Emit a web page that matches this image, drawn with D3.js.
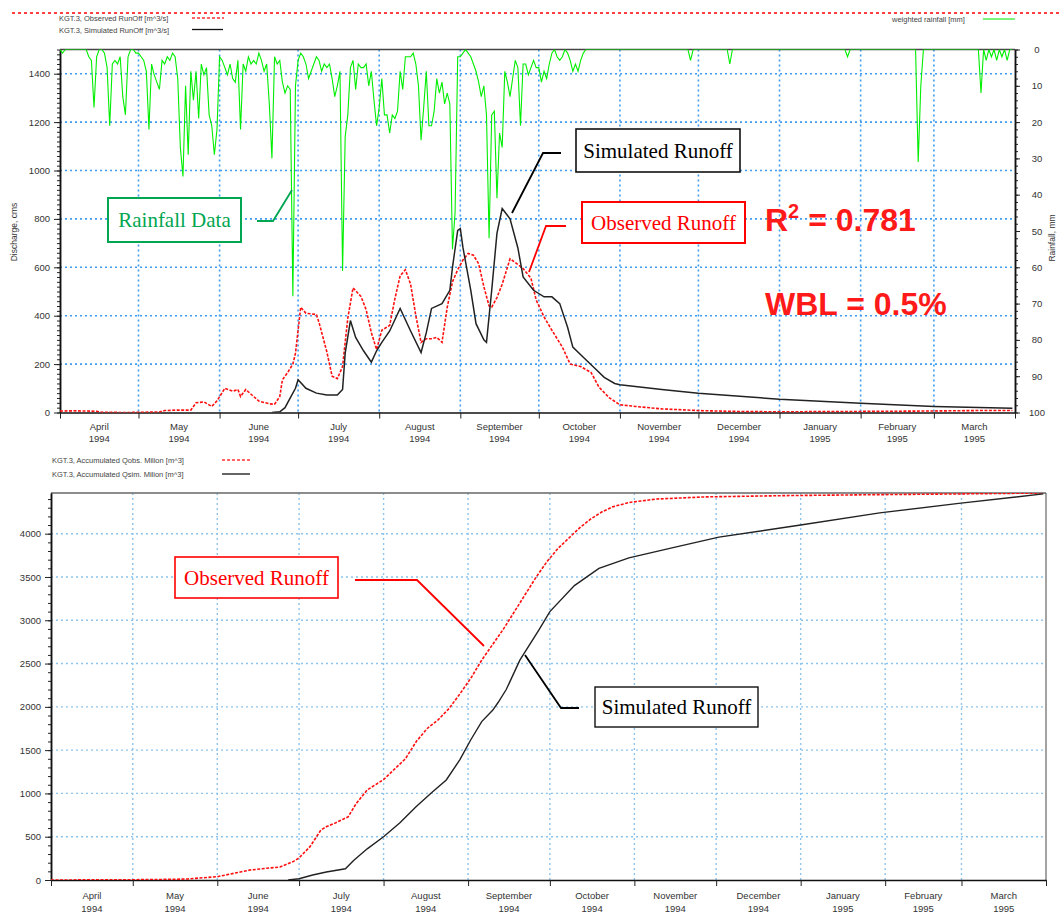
<!DOCTYPE html>
<html><head><meta charset="utf-8">
<script src="https://cdn.jsdelivr.net/npm/d3@7"></script>
<style>body{margin:0;background:#fff}svg{display:block;font-family:"Liberation Sans",Arial,sans-serif}</style>
</head><body>
<svg id="c" width="1059" height="915"></svg>
<script>
// ---------------- DATA ----------------
const monthNames = ["April","May","June","July","August","September","October","November","December","January","February","March"];
const monthYears = ["1994","1994","1994","1994","1994","1994","1994","1994","1994","1995","1995","1995"];

// daily weighted rainfall [mm], from 1 April 1994
const rainApr = [0,1,0,0,0,0,0,0,0,0, 0,2,3,16,2,0,0,1,5,21, 4,3,4,2,13,18,2,0,0,1];
const rainMay = [1,2,3,6,22,4,7,9,11,3, 4,2,3,1,2,8,27,35,10,29, 6,14,6,19,4,7,5,18,21,29, 22];
const rainJun = [2,3,5,7,4,8,9,3,22,4, 6,2,4,3,4,1,3,6,4,15, 30,2,4,3,9,12,10,11,68,10];
const rainJul = [3,1,2,4,8,6,4,2,3,6, 4,5,4,8,13,10,6,61,24,18, 5,3,11,4,5,5,4,10,6,14, 21];
const rainAug = [16,8,18,18,23,18,19,17,6,11, 2,2,2,1,4,10,25,16,6,21, 21,17,8,12,9,15,12,15,55,45, 2];
const rainSep = [2,1,0,1,2,4,6,9,13,10, 18,52,18,17,41,23,27,6,9,13, 8,3,5,21,4,4,7,5,3,5];
const rainOct = [5,9,6,8,4,1,0,2,3,2, 0,1,3,6,4,6,3,1,0,0, 0,0,0,0,0,0,0,0,0,0, 0];
const rainNov = [0,0,0,0,0,0,0,0,0,0, 0,0,0,0,0,0,0,0,0,0, 0,0,0,0,0,0,0,3,0,0];
const rainDec = [0,0,0,0,0,0,0,0,0,0, 0,0,4,0,0,0,0,0,0,0, 0,0,0,0,0,0,0,0,0,0, 0];
const rainJan = [0,0,0,0,0,0,0,0,0,0, 0,0,0,0,0,0,0,0,0,0, 0,0,0,0,0,0,2,0,0,0, 0];
const rainFeb = [0,0,0,0,0,0,0,0,0,0, 0,0,0,0,0,0,0,0,0,0, 0,0,31,10,0,0,0,0];
const rainMar = [0,0,0,0,0,0,0,0,0,0, 0,0,0,0,0,0,0,0,12,0, 3,0,2,0,3,0,2,0,3,0, 0];

// observed / simulated discharge [m3/s]; day = days since 1 April 1994
const obsDay = [0,5,10,14,16,25,38,40,45,50, 52,55,58,60,63,66,68,69,71,74, 76,80,82,84,85,87,89,90,91,92, 94,98,99,102,104,106,108,110,112,115, 117,119,121,123,126,128,130,132,134,136, 138,140,142,144,146,148,150,152,154,156, 158,160,162,164,165,167,169,172,174,177, 180,182,185,188,192,195,199,203,206,210, 214,220,230,244,260,275,300,330,350,364];
const obsQ = [6,7,6,5,1,0,2,8,10,10, 40,44,25,48,100,88,95,66,95,66, 47,36,34,66,135,165,200,245,340,435, 410,405,372,250,150,140,190,390,515,480, 425,330,260,340,360,470,565,590,530,400, 290,305,305,310,290,435,540,590,630,657, 650,615,520,440,435,475,530,635,620,595, 555,465,395,340,270,200,190,165,105,60, 32,25,15,8,4,3,4,6,8,8];
const simDay = [81,84,86,88,90,91,94,98,102,106, 108,109,111,113,116,119,121,123,126,130, 134,138,140,142,146,149,150,152,153,154, 157,159,162,163,165,167,169,172,175,177, 181,185,188,191,194,196,200,204,208,212, 214,230,244,275,306,334,364];
const simQ = [0,3,20,60,100,135,100,80,72,72, 95,245,380,310,255,208,255,290,337,430, 337,248,330,430,450,505,600,752,760,682, 505,367,300,290,505,740,843,800,680,560, 505,478,478,450,352,270,228,187,145,120, 115,95,80,55,38,25,18];

// accumulated volumes [million m3]
const cumObsDay = [0,30,45,50,61,67,73,79,84,89, 91,95,99,101,104,109,112,116,122,126, 130,134,138,142,146,150,154,158,162,166, 170,174,178,182,186,190,194,198,202,206, 212,222,240,270,300,335,364];
const cumObs = [0,3,8,12,38,77,115,135,150,215, 255,385,577,615,654,730,885,1040,1160,1280, 1400,1600,1750,1850,1980,2150,2330,2540,2720,2900, 3100,3300,3500,3680,3830,3950,4070,4170,4250,4310, 4360,4400,4425,4440,4450,4460,4470];
const cumSimDay = [87,91,96,101,108,111,116,122,128,134, 140,145,150,154,158,162,164,167,172,179, 183,192,201,212,227,245,275,304,333,364];
const cumSim = [0,15,58,92,130,225,360,500,660,850, 1020,1155,1390,1620,1830,1960,2050,2200,2540,2890, 3100,3400,3600,3720,3830,3960,4100,4240,4350,4460];

const qTicks = [0,200,400,600,800,1000,1200,1400];
const rainTicks = [0,10,20,30,40,50,60,70,80,90,100];
const volTicks = [0,500,1000,1500,2000,2500,3000,3500,4000];

// ---------------- DRAW ----------------
const svg = d3.select("#c");
const start = new Date(Date.UTC(1994,3,1)), end = new Date(Date.UTC(1995,3,1));
const dd = d => d3.utcDay.offset(start, d);
const rainAll = [].concat(rainApr,rainMay,rainJun,rainJul,rainAug,rainSep,rainOct,rainNov,rainDec,rainJan,rainFeb,rainMar);
const months = d3.utcMonth.range(start, end);
const GRAY = "#333";
const fmt = d3.format("d");

// page artifact dashed line at top
svg.append("line").attr("x1",12).attr("x2",1059).attr("y1",13).attr("y2",13)
  .attr("stroke","#ff0000").attr("stroke-width",1.5).attr("stroke-dasharray","3,3");

function panel(o){
  const g = svg.append("g");
  const x = d3.scaleUtc([start,end],[o.x0,o.x1]);
  const y = d3.scaleLinear([0,o.ymax],[o.yb,o.yt]);
  g.append("g").selectAll("line").data(months.slice(1)).join("line")
    .attr("x1",d=>x(d)).attr("x2",d=>x(d)).attr("y1",o.yt).attr("y2",o.yb)
    .attr("stroke",o.grid).attr("stroke-width",o.gw).attr("stroke-dasharray","2,3");
  g.append("g").selectAll("line").data(o.yticks.slice(1)).join("line")
    .attr("x1",o.x0).attr("x2",o.x1).attr("y1",d=>y(d)).attr("y2",d=>y(d))
    .attr("stroke",o.grid).attr("stroke-width",o.gw).attr("stroke-dasharray","2,3");
  g.append("line").attr("x1",o.x0).attr("x2",o.x1).attr("y1",o.yt).attr("y2",o.yt).attr("stroke",o.frame).attr("stroke-width",1.5);
  if(o.rightFrame) g.append("line").attr("x1",o.x1).attr("x2",o.x1).attr("y1",o.yt).attr("y2",o.yb).attr("stroke",o.frame).attr("stroke-width",1.2);
  const la = g.append("g").attr("transform",`translate(${o.x0},0)`)
    .call(d3.axisLeft(y).tickValues(d3.range(0,o.ymax+0.1,o.minor)).tickSize(3).tickSizeOuter(0).tickFormat(""));
  const lb = g.append("g").attr("transform",`translate(${o.x0},0)`)
    .call(d3.axisLeft(y).tickValues(o.yticks).tickSize(6).tickSizeOuter(0).tickPadding(4).tickFormat(fmt));
  [la,lb].forEach(a=>{a.select(".domain").attr("stroke","#111").attr("stroke-width",1.5);a.selectAll("line").attr("stroke","#222");});
  lb.selectAll("text").attr("font-size",o.fs).attr("fill",GRAY);
  const ba = g.append("g").attr("transform",`translate(0,${o.yb})`)
    .call(d3.axisBottom(x).tickValues(months.concat([end])).tickSize(6).tickSizeOuter(0).tickFormat(""));
  ba.select(".domain").attr("stroke","#111").attr("stroke-width",1.5);
  ba.selectAll("line").attr("stroke","#222");
  const mid = (d,i)=>(x(d)+x(i<11?months[i+1]:end))/2;
  const lab = g.append("g").selectAll("text").data(months).join("text")
    .attr("x",mid).attr("y",o.yb+o.ly)
    .attr("text-anchor","middle").attr("font-size",o.fs).attr("fill",GRAY);
  lab.append("tspan").text((d,i)=>monthNames[i]);
  lab.append("tspan").attr("x",mid).attr("dy",o.ldy).text((d,i)=>monthYears[i]);
  const clipId = "clip"+o.id;
  svg.append("clipPath").attr("id",clipId).append("rect").attr("x",o.x0).attr("y",o.yt).attr("width",o.x1-o.x0).attr("height",o.yb-o.yt);
  return {g,x,y,clip:`url(#${clipId})`};
}

// ---------- TOP PANEL ----------
const T = panel({id:"t",x0:60,x1:1015,yt:49.5,yb:412.5,ymax:1500,yticks:qTicks,minor:20,
  grid:"#3f9cf0",gw:1.6,frame:"#444",rightFrame:false,fs:9.5,ly:17,ldy:12});
const yR = d3.scaleLinear([0,100],[49.5,412.5]);
const ra1 = T.g.append("g").attr("transform","translate(1015,0)")
  .call(d3.axisRight(yR).tickValues(d3.range(0,101,2)).tickSize(3).tickSizeOuter(0).tickFormat(""));
const ra2 = T.g.append("g").attr("transform","translate(1015,0)")
  .call(d3.axisRight(yR).tickValues(rainTicks).tickSize(5).tickSizeOuter(0).tickFormat(fmt));
[ra1,ra2].forEach(a=>{a.select(".domain").attr("stroke","#111").attr("stroke-width",1.5);a.selectAll("line").attr("stroke","#222");});
ra2.selectAll("text").attr("x",22).attr("text-anchor","middle").attr("font-size",9.5).attr("fill",GRAY);

svg.append("text").attr("transform","translate(17,232) rotate(-90)").attr("text-anchor","middle")
  .attr("font-size",8.5).attr("fill",GRAY).text("Discharge, cms");
svg.append("text").attr("transform","translate(1055,238) rotate(-90)").attr("text-anchor","middle")
  .attr("font-size",8.5).attr("fill",GRAY).text("Rainfall, mm");

const dataT = T.g.append("g").attr("clip-path",T.clip);
dataT.append("path").datum(rainAll).attr("fill","none").attr("stroke","#00ee00").attr("stroke-width",1.1)
  .attr("d",d3.line().x((d,i)=>T.x(dd(i))).y(d=>yR(d)));
dataT.append("path").datum(obsDay.map((d,i)=>[d,obsQ[i]])).attr("fill","none").attr("stroke","#ff1010")
  .attr("stroke-width",1.6).attr("stroke-dasharray","3,1.5")
  .attr("d",d3.line().x(d=>T.x(dd(d[0]))).y(d=>T.y(d[1])));
dataT.append("path").datum(simDay.map((d,i)=>[d,simQ[i]])).attr("fill","none").attr("stroke","#222")
  .attr("stroke-width",1.5)
  .attr("d",d3.line().x(d=>T.x(dd(d[0]))).y(d=>T.y(d[1])));

function legend(x,y,text,color,dash,lx0,lx1){
  svg.append("text").attr("x",x).attr("y",y+3).attr("font-size",7.5).attr("fill","#444").text(text);
  svg.append("line").attr("x1",lx0).attr("x2",lx1).attr("y1",y).attr("y2",y).attr("stroke",color)
    .attr("stroke-width",1.3).attr("stroke-dasharray",dash);
}
legend(59,18,"KGT.3, Observed RunOff [m^3/s]","#ff3030","3,2",192,224);
legend(59,29.5,"KGT.3, Simulated RunOff [m^3/s]","#111",null,192,223);
legend(892,19,"weighted rainfall [mm]","#33ee33",null,983,1015);

function box(x,y,w,h,text,color,sw){
  svg.append("rect").attr("x",x).attr("y",y).attr("width",w).attr("height",h).attr("fill","#fff")
    .attr("stroke",color).attr("stroke-width",sw);
  svg.append("text").attr("x",x+w/2).attr("y",y+h/2+7).attr("text-anchor","middle")
    .attr("font-family","'Liberation Serif','Times New Roman',serif").attr("font-size",21).attr("fill",color==="#111"?"#000":color).text(text);
}
function leader(pts,color){
  svg.append("path").attr("d",d3.line()(pts)).attr("fill","none").attr("stroke",color).attr("stroke-width",1.8);
}
const green = "#00a651";
box(108,198,133,44,"Rainfall Data",green,2);
leader([[257,221],[273,221],[292,190]],green);
box(576,129,164,43,"Simulated Runoff","#111",1.6);
leader([[561,153],[543,153],[512,213]],"#000");
box(582,202,163,41,"Observed Runoff","#ff0000",2);
leader([[566,226],[546,226],[529,272]],"#ff0000");

const stat = svg.append("g").attr("fill","#ff1a1a").attr("font-weight","bold").attr("font-size",32);
const r2 = stat.append("text").attr("x",765).attr("y",231);
r2.append("tspan").text("R");
r2.append("tspan").attr("font-size",20).attr("dy",-13).text("2");
r2.append("tspan").attr("dy",13).text(" = 0.781");
stat.append("text").attr("x",765).attr("y",315).text("WBL = 0.5%");

// ---------- BOTTOM PANEL ----------
const B = panel({id:"b",x0:51,x1:1046,yt:493,yb:880,ymax:4470,yticks:volTicks,minor:100,
  grid:"#8cc4ee",gw:1.4,frame:"#666",rightFrame:true,fs:9.5,ly:19,ldy:12.5});
const dataB = B.g.append("g").attr("clip-path",B.clip);
dataB.append("path").datum(cumObsDay.map((d,i)=>[d,cumObs[i]])).attr("fill","none").attr("stroke","#ff1010")
  .attr("stroke-width",1.6).attr("stroke-dasharray","3,1.5")
  .attr("d",d3.line().x(d=>B.x(dd(d[0]))).y(d=>B.y(d[1])));
dataB.append("path").datum(cumSimDay.map((d,i)=>[d,cumSim[i]])).attr("fill","none").attr("stroke","#222")
  .attr("stroke-width",1.4)
  .attr("d",d3.line().x(d=>B.x(dd(d[0]))).y(d=>B.y(d[1])));

legend(52,460,"KGT.3, Accumulated Qobs. Milion [m^3]","#ff3030","3,2",222,250);
legend(52,474,"KGT.3, Accumulated Qsim. Milion [m^3]","#111",null,222,250);

box(175,557,163,41,"Observed Runoff","#ff0000",1.6);
leader([[355,580],[417,580],[484,646]],"#ff0000");
box(595,687,163,40,"Simulated Runoff","#111",1.4);
leader([[579,708],[561,708],[525,655]],"#000");
</script>
</body></html>
